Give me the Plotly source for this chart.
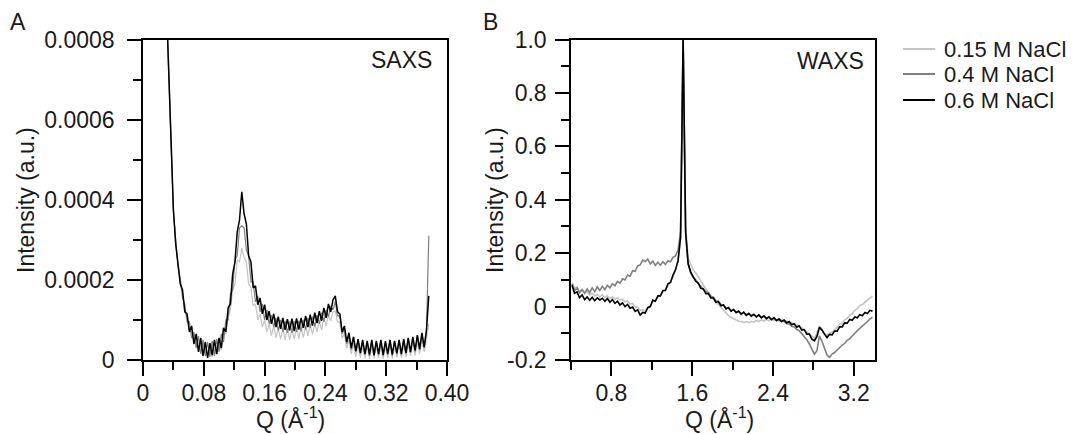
import numpy as np
import plotly.graph_objects as go

# ---------------- data ----------------
# SAXS sampling grid (Å^-1)
q_saxs = np.round(0.031 + 0.003 * np.arange(116), 3)
# SAXS intensities in units of 1e-4 a.u.
saxs_015 = [8.8, 7.05, 5.1, 3.75, 2.95, 2.4, 1.95, 1.65, 1.25, 1.05,
            0.8, 0.7, 0.5, 0.45, 0.3, 0.35, 0.15, 0.3, 0.1, 0.3,
            0.08, 0.32, 0.12, 0.4, 0.25, 0.65, 0.65, 1.05, 1.25, 1.75,
            1.9, 2.5, 2.45, 2.8, 2.55, 2.45, 1.9, 1.8, 1.35, 1.4,
            1.0, 1.15, 0.82, 1.0, 0.7, 0.9, 0.6, 0.85, 0.55, 0.8,
            0.52, 0.78, 0.5, 0.78, 0.5, 0.78, 0.52, 0.8, 0.54, 0.82,
            0.56, 0.85, 0.6, 0.88, 0.64, 0.92, 0.7, 0.98, 0.75, 1.05,
            0.85, 1.12, 0.98, 1.2, 1.22, 0.95, 0.95, 0.55, 0.65, 0.3,
            0.5, 0.15, 0.42, 0.08, 0.38, 0.05, 0.35, 0.04, 0.34, 0.03,
            0.35, 0.04, 0.33, 0.05, 0.35, 0.03, 0.34, 0.05, 0.36, 0.04,
            0.35, 0.06, 0.37, 0.05, 0.38, 0.08, 0.4, 0.1, 0.42, 0.12,
            0.46, 0.15, 0.5, 0.2, 0.55, 0.9]
saxs_04 = [8.8, 6.95, 5.15, 3.7, 3.0, 2.35, 2.05, 1.55, 1.4, 0.95,
           0.95, 0.55, 0.7, 0.3, 0.6, 0.15, 0.5, 0.1, 0.45, 0.08,
           0.48, 0.1, 0.52, 0.2, 0.65, 0.45, 1.0, 1.0, 1.65, 1.75,
           2.5, 2.6, 3.3, 3.35, 3.3, 2.75, 2.6, 1.95, 1.95, 1.45,
           1.6, 1.2, 1.4, 1.0, 1.25, 0.9, 1.12, 0.82, 1.05, 0.74,
           1.0, 0.7, 0.98, 0.68, 0.96, 0.68, 0.97, 0.7, 0.98, 0.72,
           1.0, 0.76, 1.05, 0.8, 1.08, 0.84, 1.12, 0.9, 1.18, 0.96,
           1.25, 1.08, 1.35, 1.25, 1.45, 1.1, 1.1, 0.65, 0.78, 0.4,
           0.62, 0.26, 0.55, 0.2, 0.5, 0.15, 0.46, 0.12, 0.45, 0.1,
           0.46, 0.1, 0.45, 0.12, 0.47, 0.1, 0.45, 0.13, 0.48, 0.1,
           0.46, 0.14, 0.48, 0.12, 0.5, 0.15, 0.52, 0.18, 0.55, 0.2,
           0.6, 0.25, 0.65, 0.3, 0.72, 3.1]
saxs_06 = [8.8, 7.0, 5.1, 3.75, 2.9, 2.45, 1.9, 1.75, 1.2, 1.15,
           0.7, 0.85, 0.4, 0.65, 0.2, 0.55, 0.1, 0.45, 0.05, 0.42,
           0.12, 0.5, 0.15, 0.55, 0.3, 0.8, 0.7, 1.3, 1.4, 2.15,
           2.45, 3.2, 3.5, 4.2, 3.65, 3.4, 2.6, 2.45, 1.8, 1.85,
           1.38, 1.55, 1.15, 1.38, 1.0, 1.22, 0.9, 1.15, 0.82, 1.08,
           0.78, 1.05, 0.75, 1.02, 0.74, 1.03, 0.72, 1.04, 0.76, 1.05,
           0.8, 1.1, 0.82, 1.13, 0.86, 1.18, 0.92, 1.22, 0.98, 1.3,
           1.05, 1.4, 1.2, 1.5, 1.6, 1.2, 1.15, 0.7, 0.85, 0.45,
           0.68, 0.3, 0.58, 0.22, 0.52, 0.18, 0.5, 0.15, 0.48, 0.14,
           0.5, 0.12, 0.48, 0.15, 0.5, 0.13, 0.47, 0.16, 0.5, 0.14,
           0.48, 0.17, 0.5, 0.15, 0.52, 0.18, 0.55, 0.2, 0.58, 0.24,
           0.62, 0.28, 0.68, 0.32, 0.75, 1.6]

# WAXS sampling grid (Å^-1)
q_waxs = np.round(0.41 + 0.025 * np.arange(120), 3)
waxs_015 = [0.09, 0.07, 0.072, 0.058, 0.062, 0.05, 0.056, 0.044, 0.05, 0.04,
            0.046, 0.036, 0.044, 0.034, 0.04, 0.03, 0.037, 0.028, 0.033, 0.024,
            0.028, 0.018, 0.02, 0.01, 0.012, 0.0, -0.002, -0.014, -0.012, -0.016,
            -0.004, 0.002, 0.018, 0.022, 0.036, 0.042, 0.056, 0.064, 0.08, 0.092,
            0.112, 0.138, 0.17, 0.26, 0.99, 0.3, 0.18, 0.158, 0.138, 0.126,
            0.108, 0.096, 0.08, 0.068, 0.052, 0.042, 0.026, 0.016, 0.002, -0.008,
            -0.018, -0.026, -0.034, -0.04, -0.046, -0.05, -0.055, -0.056, -0.06, -0.056,
            -0.06, -0.055, -0.058, -0.052, -0.056, -0.05, -0.054, -0.048, -0.053, -0.047,
            -0.052, -0.048, -0.054, -0.05, -0.056, -0.054, -0.06, -0.06, -0.066, -0.068,
            -0.076, -0.08, -0.088, -0.094, -0.104, -0.11, -0.118, -0.1, -0.072, -0.086,
            -0.102, -0.108, -0.1, -0.096, -0.086, -0.08, -0.068, -0.062, -0.05, -0.044,
            -0.032, -0.026, -0.014, -0.008, 0.004, 0.008, 0.018, 0.024, 0.032, 0.04]
waxs_04 = [0.085, 0.06, 0.07, 0.052, 0.064, 0.05, 0.066, 0.052, 0.07, 0.056,
           0.074, 0.06, 0.076, 0.064, 0.08, 0.07, 0.086, 0.078, 0.094, 0.088,
           0.104, 0.1, 0.118, 0.114, 0.134, 0.132, 0.152, 0.156, 0.174, 0.168,
           0.178, 0.16, 0.17, 0.154, 0.166, 0.155, 0.168, 0.158, 0.172, 0.168,
           0.184, 0.19, 0.212, 0.28, 1.01, 0.27, 0.16, 0.125, 0.108, 0.1,
           0.086, 0.076, 0.07, 0.056, 0.052, 0.038, 0.035, 0.022, 0.02, 0.008,
           0.006, -0.006, -0.006, -0.015, -0.012, -0.02, -0.018, -0.026, -0.022, -0.03,
           -0.026, -0.033, -0.03, -0.036, -0.032, -0.04, -0.036, -0.043, -0.04, -0.047,
           -0.044, -0.051, -0.049, -0.056, -0.055, -0.064, -0.065, -0.074, -0.076, -0.086,
           -0.09, -0.102, -0.11, -0.124, -0.14, -0.158, -0.178, -0.165, -0.11, -0.13,
           -0.16, -0.182, -0.19, -0.178, -0.172, -0.162, -0.156, -0.144, -0.138, -0.126,
           -0.12, -0.108, -0.1, -0.09, -0.082, -0.072, -0.064, -0.056, -0.046, -0.04]
waxs_06 = [0.08, 0.05, 0.055, 0.033, 0.044, 0.026, 0.036, 0.024, 0.035, 0.022,
           0.033, 0.025, 0.031, 0.02, 0.03, 0.016, 0.026, 0.012, 0.02, 0.006,
           0.014, 0.0, 0.008, -0.006, -0.002, -0.018, -0.012, -0.032, -0.022, -0.024,
           -0.004, 0.0, 0.024, 0.02, 0.04, 0.04, 0.06, 0.06, 0.085, 0.09,
           0.118, 0.138, 0.172, 0.26, 1.01, 0.28, 0.16, 0.13, 0.112, 0.095,
           0.088, 0.068, 0.066, 0.048, 0.049, 0.032, 0.032, 0.016, 0.018, 0.003,
           0.006, -0.009, -0.004, -0.017, -0.011, -0.023, -0.017, -0.029, -0.021, -0.033,
           -0.026, -0.036, -0.029, -0.039, -0.031, -0.042, -0.035, -0.045, -0.038, -0.049,
           -0.041, -0.053, -0.046, -0.056, -0.05, -0.061, -0.056, -0.068, -0.064, -0.077,
           -0.072, -0.088, -0.086, -0.103, -0.103, -0.122, -0.128, -0.112, -0.078, -0.088,
           -0.103, -0.116, -0.104, -0.106, -0.092, -0.092, -0.076, -0.076, -0.061, -0.062,
           -0.048, -0.051, -0.039, -0.042, -0.03, -0.034, -0.022, -0.026, -0.014, -0.017]

series_names = ["0.15 M NaCl", "0.4 M NaCl", "0.6 M NaCl"]
series_colors = ["#c4c4c4", "#808080", "#000000"]

saxs_x_ticks = [0, 0.08, 0.16, 0.24, 0.32, 0.40]
saxs_x_labels = ["0", "0.08", "0.16", "0.24", "0.32", "0.40"]
saxs_y_ticks = [0, 0.0002, 0.0004, 0.0006, 0.0008]
saxs_y_labels = ["0", "0.0002", "0.0004", "0.0006", "0.0008"]
waxs_x_ticks = [0.8, 1.6, 2.4, 3.2]
waxs_x_labels = ["0.8", "1.6", "2.4", "3.2"]
waxs_y_ticks = [-0.2, 0, 0.2, 0.4, 0.6, 0.8, 1.0]
waxs_y_labels = ["-0.2", "0", "0.2", "0.4", "0.6", "0.8", "1.0"]

# ---------------- figure ----------------
W, H = 1079, 434
FONT = "Liberation Sans, Arial, sans-serif"
TXT = "#1a1a1a"
FS = 23

def px_x(v):
    return v / W

def px_y(v):
    return 1 - v / H

fig = go.Figure()
saxs_widths = [1.2, 1.2, 1.5]
for name, vals, col, lw in zip(series_names, [saxs_015, saxs_04, saxs_06], series_colors, saxs_widths):
    fig.add_trace(go.Scatter(x=q_saxs, y=np.array(vals) * 1e-4, mode="lines",
                             line=dict(color=col, width=lw), name=name,
                             showlegend=False, xaxis="x", yaxis="y", hoverinfo="skip"))
for name, vals, col in zip(series_names, [waxs_015, waxs_04, waxs_06], series_colors):
    fig.add_trace(go.Scatter(x=q_waxs, y=vals, mode="lines",
                             line=dict(color=col, width=1.6), name=name,
                             showlegend=False, xaxis="x2", yaxis="y2"))

minor_common = dict(ticklen=8, tickwidth=1.5, ticks="outside", tickcolor="black")
ax_common = dict(showline=True, linecolor="black", linewidth=1.5, mirror=True,
                 ticks="outside", ticklen=14, tickwidth=1.5, tickcolor="black",
                 showgrid=False, zeroline=False, automargin=False,
                 tickfont=dict(family=FONT, size=FS, color=TXT))

fig.update_layout(
    template="none",
    width=W, height=H, autosize=False,
    margin=dict(l=0, r=0, t=0, b=0, pad=0, autoexpand=False),
    paper_bgcolor="white", plot_bgcolor="white",
    font=dict(family=FONT, size=FS, color=TXT),
    showlegend=False,
    xaxis=dict(ax_common, domain=[px_x(143), px_x(447)], range=[0, 0.4], anchor="y",
               tickmode="array", tickvals=saxs_x_ticks, ticktext=saxs_x_labels,
               ticklabelstandoff=-2,
               minor=dict(minor_common, dtick=0.04, tick0=0)),
    yaxis=dict(ax_common, domain=[px_y(360), px_y(39.5)], range=[0, 0.0008], anchor="x",
               tickmode="array", tickvals=saxs_y_ticks, ticktext=saxs_y_labels,
               ticklabelstandoff=8,
               minor=dict(minor_common, dtick=0.0001, tick0=0)),
    xaxis2=dict(ax_common, domain=[px_x(571), px_x(875)], range=[0.4, 3.41], anchor="y2",
                tickmode="array", tickvals=waxs_x_ticks, ticktext=waxs_x_labels,
                ticklabelstandoff=-2,
                minor=dict(minor_common, dtick=0.4, tick0=0.4)),
    yaxis2=dict(ax_common, domain=[px_y(360), px_y(39.5)], range=[-0.2, 1.0], anchor="x2",
                tickmode="array", tickvals=waxs_y_ticks, ticktext=waxs_y_labels,
                ticklabelstandoff=4,
                minor=dict(minor_common, dtick=0.1, tick0=0)),
)

def add_text(txt, x, y, xanchor="center", angle=0, size=FS):
    fig.add_annotation(xref="paper", yref="paper", x=px_x(x), y=px_y(y), text=txt,
                       showarrow=False, xanchor=xanchor, yanchor="middle", textangle=angle,
                       font=dict(family=FONT, size=size, color=TXT))

# panel letters and panel tags
add_text("A", 18, 22)
add_text("B", 490, 22)
add_text("SAXS", 434, 60, xanchor="right")
add_text("WAXS", 866, 61, xanchor="right")
# axis titles
add_text("Intensity (a.u.)", 26, 200, angle=-90)
add_text("Intensity (a.u.)", 495, 200, angle=-90)
add_text("Q (Å<sup>-1</sup>)", 290, 418)
add_text("Q (Å<sup>-1</sup>)", 719, 418)

# legend (line swatch + label for each series)
legend_rows = [49, 74, 100]
for name, col, yy in zip(series_names, series_colors, legend_rows):
    fig.add_shape(type="line", xref="paper", yref="paper",
                  x0=px_x(903), x1=px_x(935), y0=px_y(yy), y1=px_y(yy),
                  line=dict(color=col, width=2))
    add_text(name, 942, yy, xanchor="left", size=22)

fig.write_html("out.html", config={"responsive": False})
